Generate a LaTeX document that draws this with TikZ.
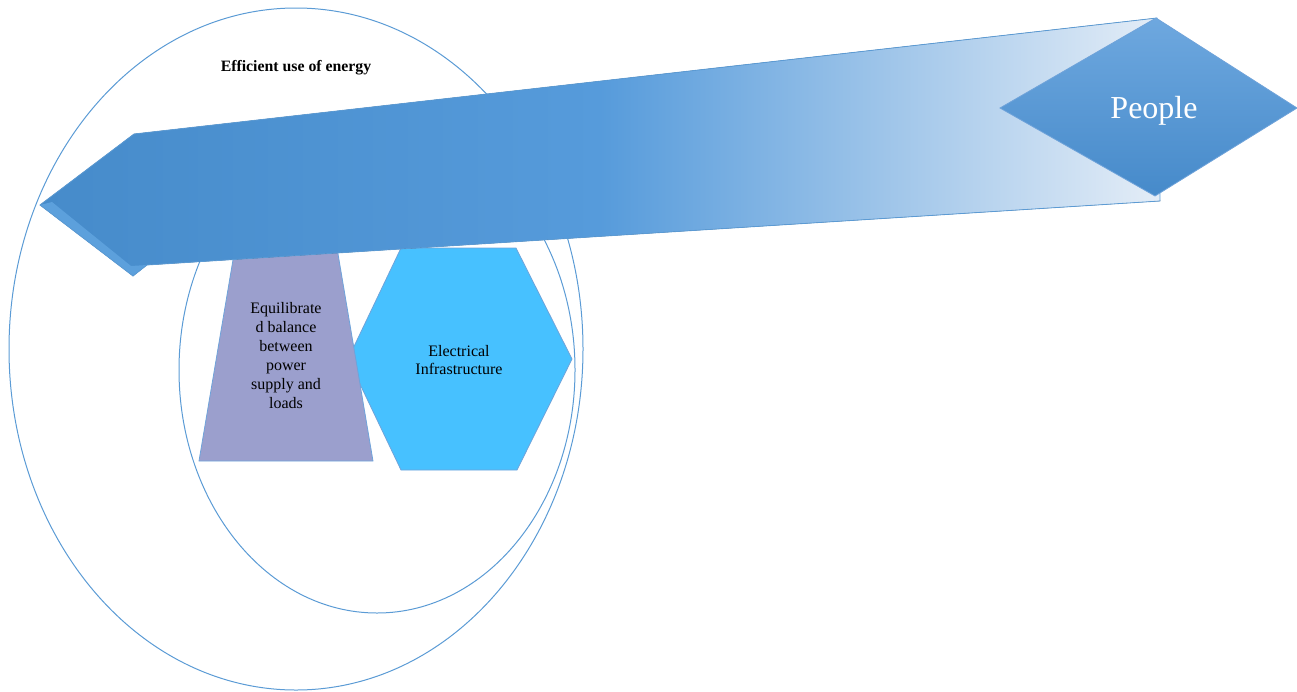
\documentclass[tikz,border=0pt]{standalone}
\usepackage{fontspec}
\setmainfont{Liberation Serif}
\newfontfamily\timesface{Liberation Serif}
\definecolor{ringblue}{HTML}{5B9BD5}
\definecolor{edgeblue}{HTML}{6FA3DA}
\definecolor{hexfill}{HTML}{47C1FF}
\definecolor{trapfill}{HTML}{9B9FCD}
\definecolor{arrowL}{RGB}{70,139,202}
\definecolor{arrowM}{RGB}{86,155,219}
\definecolor{arrowR}{RGB}{228,237,247}
\definecolor{bevel}{RGB}{92,160,220}
\definecolor{diaTop}{RGB}{110,168,223}
\definecolor{diaBot}{RGB}{70,138,202}
\begin{document}
\begin{tikzpicture}[x=1pt,y=-1pt,
  ring/.style={draw=ringblue,line width=1pt},
  shapeedge/.style={draw=edgeblue,line width=0.8pt,line join=miter},
  smalltext/.style={font=\timesface\fontsize{16}{19}\selectfont,align=center,text=black}]
\useasboundingbox (0,0) rectangle (1297,691);

% the two rings
\draw[ring] (296,349) ellipse [x radius=287pt, y radius=341pt];
\draw[ring] (377,370) ellipse [x radius=198pt, y radius=243pt];

% hexagon and trapezoid
\draw[shapeedge,fill=hexfill] (401,248) -- (516,248) -- (572,359) -- (517,470) -- (401,470) -- (348,359) -- cycle;
\draw[shapeedge,fill=trapfill] (235,248) -- (337,248) -- (373,461) -- (199,461) -- cycle;

% the long arrow pointing left
\fill[left color=arrowL,right color=arrowR,middle color=arrowM]
  (40,205) -- (134,134) -- (1157,18) -- (1160,201) -- (147,265) -- (133,276) -- cycle;
\fill[bevel] (40,205) -- (52,202) -- (131,266) -- (147,265) -- (133,276) -- cycle;
\draw[draw=ringblue,line width=0.8pt,line join=miter]
  (40,205) -- (134,134) -- (1157,18) -- (1160,201) -- (147,265) -- (133,276) -- cycle;

% diamond head
\draw[draw=edgeblue,line width=0.8pt,top color=diaTop,bottom color=diaBot]
  (1000,108) -- (1156,18) -- (1297,108) -- (1155,196) -- cycle;

% labels
\node[font=\timesface\fontsize{32}{38}\selectfont,text=white] (people) at (1154,111) {People};
\node[font=\timesface\bfseries\fontsize{15.8}{18}\selectfont] (title) at (296,68) {Efficient use of energy};
\node[smalltext] (balance) at (286,356) {Equilibrate\\d balance\\between\\power\\supply and\\loads};
\node[smalltext,font=\timesface\fontsize{16}{18.5}\selectfont] (infra) at (459,360) {Electrical\\Infrastructure};
\end{tikzpicture}
\end{document}
